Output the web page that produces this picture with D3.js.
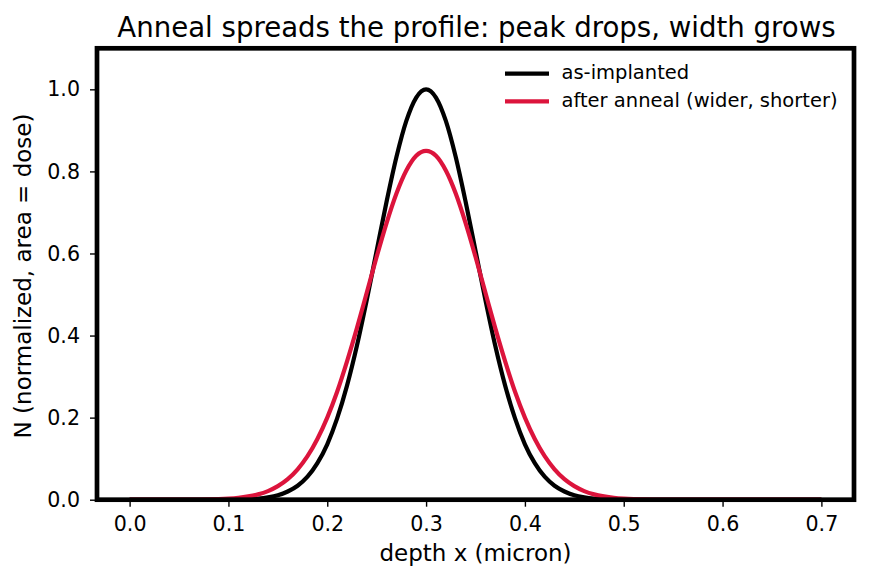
<!DOCTYPE html>
<html>
<head>
<meta charset="utf-8">
<script src="https://cdn.jsdelivr.net/npm/d3@7"></script>
<style>
  body { margin: 0; background: #fff; }
  svg text { font-family: "DejaVu Sans", sans-serif; fill: #000; }
</style>
</head>
<body>
<div id="chart"></div>
<script>
// depth grid (micron)
const depth = [0, 0.04, 0.06, 0.08,
  0.09, 0.10, 0.11, 0.12, 0.13, 0.14, 0.15, 0.16, 0.17, 0.18, 0.19, 0.20,
  0.21, 0.22, 0.23, 0.24, 0.25, 0.26, 0.27, 0.28, 0.29, 0.30,
  0.31, 0.32, 0.33, 0.34, 0.35, 0.36, 0.37, 0.38, 0.39, 0.40,
  0.41, 0.42, 0.43, 0.44, 0.45, 0.46, 0.47, 0.48, 0.49, 0.50, 0.51,
  0.52, 0.54, 0.56, 0.60, 0.65, 0.70];

// as-implanted profile
const asImplanted = [0, 0, 0, 0,
  0, 0.0003, 0.0007, 0.0015, 0.003, 0.006, 0.011, 0.020, 0.034, 0.056, 0.089, 0.135,
  0.198, 0.278, 0.375, 0.487, 0.607, 0.726, 0.835, 0.923, 0.980, 1.000,
  0.980, 0.923, 0.835, 0.726, 0.607, 0.487, 0.375, 0.278, 0.198, 0.135,
  0.089, 0.056, 0.034, 0.020, 0.011, 0.006, 0.003, 0.0015, 0.0007, 0.0003, 0,
  0, 0, 0, 0, 0, 0];

// after anneal profile
const afterAnneal = [0, 0, 0.0002, 0.0008,
  0.0014, 0.0026, 0.0046, 0.008, 0.013, 0.021, 0.033, 0.050, 0.074, 0.106, 0.148, 0.200,
  0.263, 0.337, 0.418, 0.505, 0.592, 0.674, 0.746, 0.802, 0.838, 0.850,
  0.838, 0.802, 0.746, 0.674, 0.592, 0.505, 0.418, 0.337, 0.263, 0.200,
  0.148, 0.106, 0.074, 0.050, 0.033, 0.021, 0.013, 0.008, 0.0046, 0.0026, 0.0014,
  0.0008, 0.0002, 0, 0, 0, 0];

const xTicks = [0.0, 0.1, 0.2, 0.3, 0.4, 0.5, 0.6, 0.7];
const yTicks = [0.0, 0.2, 0.4, 0.6, 0.8, 1.0];

const seriesNames = ["as-implanted", "after anneal (wider, shorter)"];
const seriesColors = ["#000000", "#dc143c"];

const W = 869, H = 581;
const margin = { top: 48.3, right: 15, bottom: 81.3, left: 97 };
const width = W - margin.left - margin.right,
      height = H - margin.top - margin.bottom;

const svg = d3.select("#chart").append("svg")
  .attr("width", W).attr("height", H);

const g = svg.append("g")
  .attr("transform", `translate(${margin.left}, ${margin.top})`);

const x = d3.scaleLinear().domain([-0.033, 0.733]).range([0, width]);
const y = d3.scaleLinear().domain([0, 1.1]).range([height, 0]);

// x-axis
const xAxis = g.append("g")
  .attr("transform", `translate(0, ${height})`)
  .call(d3.axisBottom(x).tickValues(xTicks).tickFormat(d3.format(".1f")).tickSize(7).tickPadding(10));
// y-axis
const yAxis = g.append("g")
  .call(d3.axisLeft(y).tickValues(yTicks).tickFormat(d3.format(".1f")).tickSize(7).tickPadding(10));

[xAxis, yAxis].forEach(a => {
  a.select(".domain").remove();
  a.selectAll(".tick line").attr("stroke", "#000").attr("stroke-width", 1.4);
  a.selectAll(".tick text").style("font-size", "20.6px").style("font-family", "DejaVu Sans");
});

// lines
const series = [asImplanted, afterAnneal];
const line = d3.line()
  .x((d, i) => x(depth[i]))
  .y(d => y(d))
  .curve(d3.curveMonotoneX);

series.forEach((s, k) => {
  g.append("path")
    .datum(s)
    .attr("fill", "none")
    .attr("stroke", seriesColors[k])
    .attr("stroke-width", 4.2)
    .attr("stroke-linejoin", "round")
    .attr("d", line);
});

// frame
g.append("rect")
  .attr("x", 0).attr("y", 0)
  .attr("width", width).attr("height", height)
  .attr("fill", "none")
  .attr("stroke", "#000")
  .attr("stroke-width", 4.7);

// title + labels
svg.append("text")
  .attr("x", margin.left + width / 2 + 1).attr("y", 36.5)
  .attr("text-anchor", "middle")
  .style("font-size", "27.6px")
  .text("Anneal spreads the profile: peak drops, width grows");

svg.append("text")
  .attr("x", margin.left + width / 2).attr("y", 561)
  .attr("text-anchor", "middle")
  .style("font-size", "23px")
  .text("depth x (micron)");

svg.append("text")
  .attr("transform", `translate(31, ${margin.top + height / 2 + 2}) rotate(-90)`)
  .attr("text-anchor", "middle")
  .style("font-size", "23px")
  .text("N (normalized, area = dose)");

// legend
const legend = svg.append("g").attr("transform", "translate(505, 73.7)");
seriesNames.forEach((name, k) => {
  const row = legend.append("g").attr("transform", `translate(0, ${k * 27.6})`);
  row.append("line")
    .attr("x1", 0).attr("x2", 44)
    .attr("stroke", seriesColors[k]).attr("stroke-width", 4.2);
  row.append("text")
    .attr("x", 56.5).attr("y", 5.7)
    .style("font-size", "19.5px")
    .text(name);
});
</script>
</body>
</html>
